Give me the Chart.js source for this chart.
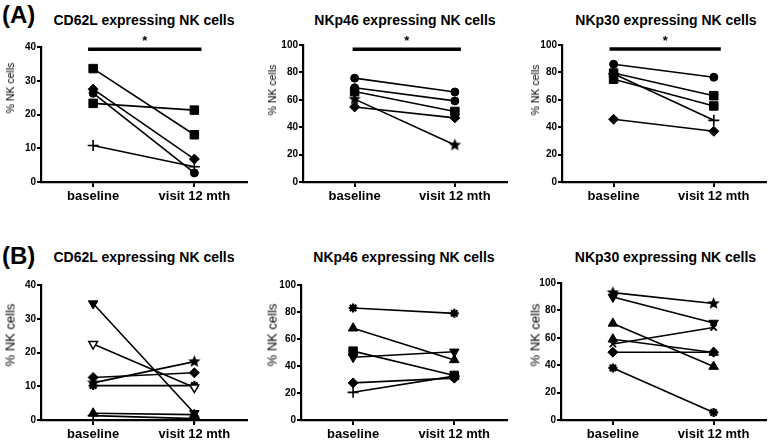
<!DOCTYPE html>
<html><head><meta charset="utf-8">
<script src="https://cdn.jsdelivr.net/npm/chart.js@4/dist/chart.umd.min.js"></script>
<style>
html,body{margin:0;padding:0;background:#fff;}
body{width:773px;height:444px;position:relative;overflow:hidden;font-family:"Liberation Sans",Arial,sans-serif;}
.cv{position:absolute;}
.ttl{position:absolute;font-weight:bold;font-size:14px;color:#000;white-space:nowrap;transform:translate(-50%,-50%);}
.lab{position:absolute;font-weight:bold;font-size:24px;color:#000;white-space:nowrap;}
.yt{position:absolute;color:#000;white-space:nowrap;transform:translate(-50%,-50%) rotate(-90deg);}
</style></head>
<body>
<div class="lab" style="left:2px;top:1px;">(A)</div>
<div class="lab" style="left:2px;top:242px;">(B)</div>

<script>
// ---------- DATA ----------
const categories = ['baseline', 'visit 12 mth'];
const titles = ['CD62L expressing NK cells', 'NKp46 expressing NK cells', 'NKp30 expressing NK cells'];
const yAxisTitle = '% NK cells';

// Row A (baseline, visit 12 mth) per subject
const a1CD62L = [[33.6, 14.0], [23.3, 21.3], [27.5, 6.8], [26.3, 2.7], [10.8, 4.5]];
const a2NKp46 = [[75.8, 65.7], [68.8, 59.2], [66.0, 51.5], [54.8, 46.8], [60.5, 27.0]];
const a3NKp30 = [[86.0, 76.5], [79.5, 63.0], [75.0, 55.5], [79.0, 45.0], [45.8, 37.0]];

// Row B
const b1CD62L = [[34.5, 2.0], [22.5, 9.6], [12.6, 14.0], [11.0, 17.3], [10.2, 10.2], [2.0, 1.6], [1.3, 0.4]];
const b2NKp46 = [[83.0, 79.0], [68.0, 44.5], [51.0, 33.0], [46.5, 50.5], [27.5, 31.0], [20.5, 32.5]];
const b3NKp30 = [[93.0, 85.0], [89.8, 70.8], [70.5, 39.0], [59.0, 49.3], [55.5, 67.5], [49.5, 49.5], [38.0, 5.5]];

// y-axis ticks
const yTicks40 = [0, 10, 20, 30, 40];
const yTicks100 = [0, 20, 40, 60, 80, 100];

// significance bars (row A): [from x, to x, y level]
const sigA1 = [-0.05, 1.07, 39.3];
const sigA2 = [-0.02, 1.06, 96.9];
const sigA3 = [-0.04, 1.07, 97.0];

// ---------- MARKERS ----------
function starImg(r) {
  const c = document.createElement('canvas');
  const s = Math.ceil(r * 2 + 2);
  c.width = s; c.height = s;
  const g = c.getContext('2d');
  g.fillStyle = '#000';
  g.beginPath();
  for (let i = 0; i < 10; i++) {
    const rr = i % 2 === 0 ? r : r * 0.45;
    const a = -Math.PI / 2 + i * Math.PI / 5;
    const x = s / 2 + rr * Math.cos(a), y = s / 2 + rr * Math.sin(a);
    if (i === 0) g.moveTo(x, y); else g.lineTo(x, y);
  }
  g.closePath(); g.fill();
  return c;
}
const STAR = starImg(6.5);
const M = {
  circle: {pointStyle: 'circle', pointRadius: 4},
  square: {pointStyle: 'rect', pointRadius: 6},
  diamond: {pointStyle: 'rectRot', pointRadius: 5},
  tri: {pointStyle: 'triangle', pointRadius: 5.5},
  triDown: {pointStyle: 'triangle', pointRadius: 5.5, pointRotation: 180},
  triDownOpen: {pointStyle: 'triangle', pointRadius: 5, pointRotation: 180, open: true},
  plus: {pointStyle: 'cross', pointRadius: 5.5, pbw: 1.6},
  aster: {pointStyle: 'star', pointRadius: 4.5, pbw: 2.2},
  xmark: {pointStyle: 'crossRot', pointRadius: 4.5, pbw: 1.8},
  star: {pointStyle: STAR, pointRadius: 6}
};

const a1Markers = ['square', 'square', 'diamond', 'circle', 'plus'];
const a2Markers = ['circle', 'circle', 'square', 'diamond', 'star'];
const a3Markers = ['circle', 'square', 'square', 'plus', 'diamond'];
const b1Markers = ['triDown', 'triDownOpen', 'diamond', 'star', 'aster', 'tri', 'plus'];
const b2Markers = ['aster', 'tri', 'square', 'triDown', 'diamond', 'plus'];
const b3Markers = ['star', 'triDown', 'tri', 'tri', 'xmark', 'diamond', 'aster'];

// ---------- PANEL BUILDER ----------
const sigPlugin = {
  id: 'sigStar',
  afterDatasetsDraw(chart, args, opts) {
    if (!opts || !opts.sig) return;
    const xs = chart.scales.x, ys = chart.scales.y;
    const cx = (xs.getPixelForValue(opts.sig[0]) + xs.getPixelForValue(opts.sig[1])) / 2;
    const cy = ys.getPixelForValue(opts.sig[2]);
    const ctx = chart.ctx;
    ctx.save();
    ctx.fillStyle = '#000';
    ctx.font = 'bold 13px "Liberation Sans", Arial, sans-serif';
    ctx.textAlign = 'center';
    ctx.textBaseline = 'alphabetic';
    ctx.fillText('*', cx, cy - 4);
    ctx.restore();
  }
};

function panel(box, area, yMax, yTicks, series, markers, sig, titleText, titleY, yTitle) {
  const cv = document.createElement('canvas');
  cv.className = 'cv';
  cv.style.left = box.x + 'px'; cv.style.top = box.y + 'px';
  cv.style.width = box.w + 'px'; cv.style.height = box.h + 'px';
  cv.width = box.w; cv.height = box.h;
  document.body.appendChild(cv);

  const t = document.createElement('div');
  t.className = 'ttl'; t.textContent = titleText;
  t.style.left = ((area.l + area.r) / 2) + 'px'; t.style.top = titleY + 'px';
  document.body.appendChild(t);

  const yt = document.createElement('div');
  yt.className = 'yt'; yt.textContent = yAxisTitle;
  yt.style.left = yTitle.x + 'px'; yt.style.top = yTitle.y + 'px'; yt.style.fontSize = yTitle.fs + 'px';
  document.body.appendChild(yt);

  const datasets = series.map((pair, i) => {
    const m = M[markers[i]];
    return {
      data: [{x: 0, y: pair[0]}, {x: 1, y: pair[1]}],
      borderColor: '#000', borderWidth: 1.6,
      pointStyle: m.pointStyle, pointRadius: m.pointRadius, pointHoverRadius: m.pointRadius,
      pointRotation: m.pointRotation || 0,
      pointBackgroundColor: m.open ? '#fff' : '#000',
      pointBorderColor: '#000', pointBorderWidth: m.pbw || (m.open ? 1.5 : 1),
      fill: false, tension: 0, clip: false
    };
  });
  if (sig) {
    datasets.push({
      data: [{x: sig[0], y: sig[2]}, {x: sig[1], y: sig[2]}],
      borderColor: '#000', borderWidth: 3.5, pointRadius: 0, fill: false, clip: false
    });
  }

  const yW = area.l - box.x;
  const xH = box.y + box.h - area.b;
  new Chart(cv, {
    type: 'line',
    data: {datasets},
    options: {
      responsive: false, animation: false, devicePixelRatio: 1,
      layout: {padding: {left: 0, top: area.t - box.y, right: box.x + box.w - area.r, bottom: 0}},
      plugins: {legend: {display: false}, tooltip: {enabled: false}, title: {display: false}, sigStar: {sig}},
      scales: {
        x: {
          type: 'linear', min: -0.515, max: 1.52,
          afterBuildTicks: s => { s.ticks = [{value: 0}, {value: 1}]; },
          afterFit: s => { s.height = xH; },
          border: {display: true, color: '#000', width: 2.2},
          grid: {display: true, drawOnChartArea: false, drawTicks: true, tickLength: 5, color: '#000', lineWidth: 2},
          ticks: {
            autoSkip: false, maxRotation: 0, padding: 2, color: '#000',
            font: {family: '"Liberation Sans", Arial, sans-serif', size: 13, weight: 'bold'},
            callback: v => categories[v]
          }
        },
        y: {
          type: 'linear', min: 0, max: yMax,
          afterBuildTicks: s => { s.ticks = yTicks.map(v => ({value: v})); },
          afterFit: s => { s.width = yW; },
          border: {display: true, color: '#000', width: 2.2},
          grid: {display: true, drawOnChartArea: false, drawTicks: true, tickLength: 4, color: '#000', lineWidth: 2},
          ticks: {
            padding: 1, color: '#000',
            font: {family: '"Liberation Sans", Arial, sans-serif', size: 10, weight: 'bold'}
          }
        }
      }
    },
    plugins: [sigPlugin]
  });
}

// Row A
panel({x: 0, y: 30, w: 258, h: 182}, {l: 41, t: 47, r: 247, b: 182}, 40, yTicks40, a1CD62L, a1Markers, sigA1, titles[0], 20, {x: 10, y: 88, fs: 10.5});
panel({x: 258, y: 30, w: 256, h: 182}, {l: 303, t: 45, r: 507, b: 182}, 100, yTicks100, a2NKp46, a2Markers, sigA2, titles[1], 20, {x: 272, y: 90, fs: 10.5});
panel({x: 514, y: 30, w: 259, h: 182}, {l: 562, t: 45, r: 770, b: 182}, 100, yTicks100, a3NKp30, a3Markers, sigA3, titles[2], 20, {x: 535, y: 90, fs: 10.5});
// Row B
panel({x: 0, y: 268, w: 258, h: 176}, {l: 41, t: 285, r: 247, b: 420}, 40, yTicks40, b1CD62L, b1Markers, null, titles[0], 257, {x: 10, y: 335, fs: 13});
panel({x: 258, y: 268, w: 256, h: 176}, {l: 301, t: 285, r: 507, b: 420}, 100, yTicks100, b2NKp46, b2Markers, null, titles[1], 257, {x: 272, y: 335, fs: 13});
panel({x: 514, y: 268, w: 259, h: 176}, {l: 561, t: 283, r: 770, b: 420}, 100, yTicks100, b3NKp30, b3Markers, null, titles[2], 257, {x: 535, y: 335, fs: 13});
</script>
</body></html>
